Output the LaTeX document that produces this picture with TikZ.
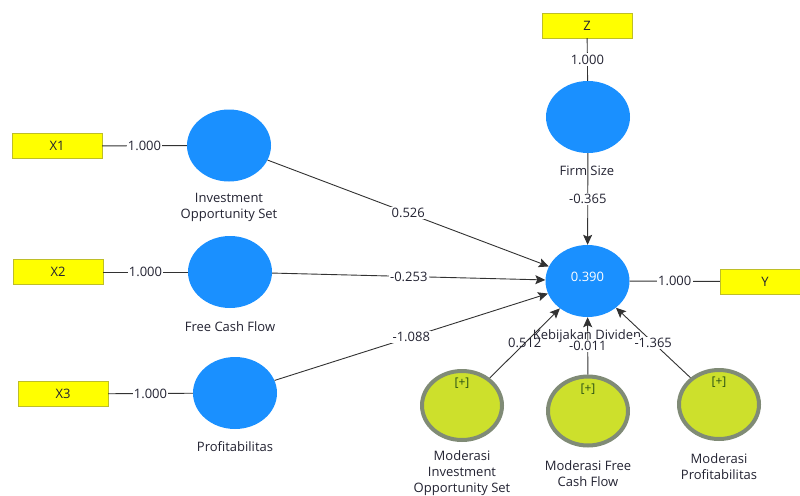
\documentclass[tikz,border=0pt]{standalone}
\usepackage{fontspec}
\setmainfont{Open Sans}
\usetikzlibrary{shapes.geometric,arrows.meta}
\definecolor{lvblue}{RGB}{26,144,255}
\definecolor{indyellow}{RGB}{255,255,0}
\definecolor{boxborder}{RGB}{190,190,40}
\definecolor{modgreen}{RGB}{205,224,44}
\definecolor{modring}{RGB}{128,139,118}
\definecolor{linecol}{RGB}{50,50,50}
\definecolor{lblcol}{RGB}{35,35,50}
\definecolor{plusgreen}{RGB}{40,80,20}
\begin{document}
\begin{tikzpicture}[x=1pt,y=-1pt,font=\fontsize{13}{16}\selectfont,
  ind/.style={draw=boxborder,fill=indyellow,minimum width=90pt,minimum height=25pt,inner sep=0pt,text=lblcol},
  lv/.style={ellipse,fill=lvblue,minimum width=84pt,minimum height=72pt,inner sep=0pt},
  modlv/.style={ellipse,fill=modgreen,draw=modring,line width=4pt,minimum width=80pt,minimum height=69pt,inner sep=0pt},
  coef/.style={fill=white,inner sep=1.2pt,text=lblcol},
  rel/.style={draw=linecol,line width=0.9pt,-{Stealth[length=10pt,width=9pt,inset=2pt]}},
  load/.style={draw=linecol,line width=0.9pt},
  plus/.style={text=plusgreen,font=\fontsize{12}{14}\selectfont},
  lbl/.style={align=center,text=lblcol,inner sep=0pt}]
\fill[white] (0,0) rectangle (800,495);
\useasboundingbox (0,0) rectangle (800,495);
\clip (0,0) rectangle (800,495);
% indicators
\node[ind] (z) at (587,25.5) {Z};
\node[ind] (x1) at (57,146) {X1};
\node[ind] (x2) at (58,272) {X2};
\node[ind] (x3) at (63,394) {X3};
\node[ind] (y) at (765,281.5) {Y};
% latent variables
\node[lv] (fs) at (588,117) {};
\node[lv] (ios) at (229,145.5) {};
\node[lv] (fcf) at (230,272) {};
\node[lv] (prof) at (235,393) {};
\node[lv] (kd) at (587.5,281) {};
\node[text=white] (r2) at (587.5,277) {0.390};
\node[modlv] (mios) at (462,405.5) {};
\node[modlv] (mfcf) at (588,411) {};
\node[modlv] (mprof) at (719,404.5) {};
\node[plus] (p1) at (462,383) {[+]};
\node[plus] (p2) at (588,389) {[+]};
\node[plus] (p3) at (719,382) {[+]};
% loadings
\draw[load] (z) -- node[coef] {1.000} (fs);
\draw[load] (x1) -- node[coef] {1.000} (ios);
\draw[load] (x2) -- node[coef] {1.000} (fcf);
\draw[load] (x3) -- node[coef] {1.000} (prof);
\draw[load] (kd) -- node[coef] {1.000} (y);
% structural paths
\draw[rel] (ios) -- node[coef] {0.526} (kd);
\draw[rel] (fcf) -- node[coef] {-0.253} (kd);
\draw[rel] (prof) -- node[coef] {-1.088} (kd);
\draw[rel] (fs) -- node[coef,pos=0.5] {-0.365} (kd);
% labels
\node[lbl] (lfs) at (587,171) {Firm Size};
\node[lbl] (lios) at (229,207) {Investment\\Opportunity Set};
\node[lbl] (lfcf) at (230,327) {Free Cash Flow};
\node[lbl] (lprof) at (235,447) {Profitabilitas};
\node[lbl] (lkd) at (587,336) {Kebijakan Dividen};
\node[lbl] (lmios) at (462,473) {Moderasi\\Investment\\Opportunity Set};
\node[lbl] (lmfcf) at (588,473.5) {Moderasi Free\\Cash Flow};
\node[lbl] (lmprof) at (719,467) {Moderasi\\Profitabilitas};
% moderating paths
\draw[rel] (mios) -- node[coef,fill=none] {0.512} (kd);
\draw[rel] (mfcf) -- node[coef] {-0.011} (kd);
\draw[rel] (mprof) -- node[coef] {-1.365} (kd);
\end{tikzpicture}
\end{document}
